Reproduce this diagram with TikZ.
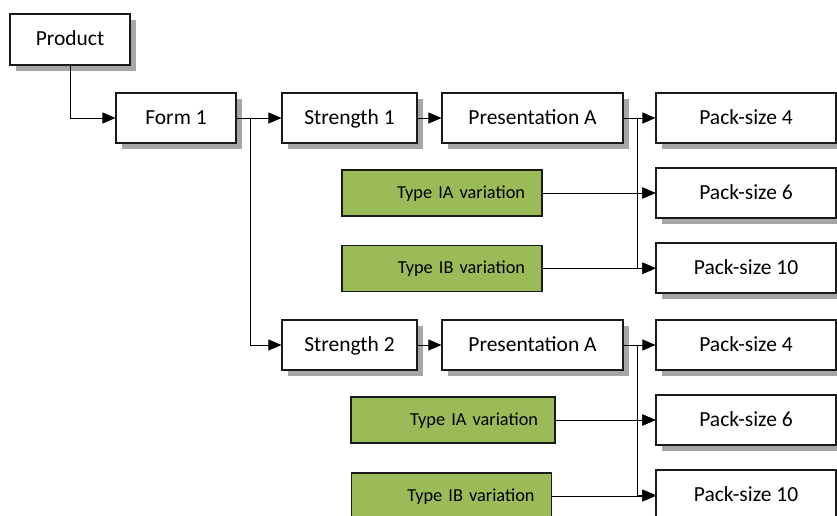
\documentclass[tikz,border=0pt]{standalone}
\usepackage{fontspec}
\setmainfont{Carlito}
\usetikzlibrary{arrows.meta,shadows}
\definecolor{vargreen}{HTML}{9BBB59}
\definecolor{shadowgray}{HTML}{A6A6A6}
\definecolor{linecol}{HTML}{1A1A1A}
\tikzset{
  wbox/.style={draw=linecol, line width=1.1pt, fill=white, minimum height=50pt, inner sep=0pt,
    text height=12.5pt, text depth=0pt,
    font=\fontsize{21.5}{24}\selectfont,
    drop shadow={shadow xshift=6pt, shadow yshift=-6pt, fill=shadowgray, opacity=1}},
  gbox/.style={draw=linecol, line width=1.1pt, fill=vargreen, minimum height=46pt, inner xsep=17pt, inner ysep=0pt,
    text height=10.8pt, text depth=0pt,
    align=right, font=\fontsize{18.3}{21}\selectfont},
  conn/.style={draw=black, line width=0.9pt},
  arr/.style={conn, -{Triangle[length=13pt,width=11pt]}}
}
\begin{document}
\begin{tikzpicture}[x=1pt,y=-1pt]
\useasboundingbox (0,0) rectangle (837,515);
\clip (0,0) rectangle (837,515);
% main boxes
\node[wbox, minimum width=120pt, minimum height=51pt] (prod) at (70,39.5) {Product};
\node[wbox, minimum width=120pt] (form1) at (176,118) {Form 1};
\node[wbox, minimum width=135pt] (str1) at (349.5,118) {Strength 1};
\node[wbox, minimum width=181pt] (pres1) at (532.5,118) {Presentation A};
\node[wbox, minimum width=180pt] (p4a) at (746,118) {Pack-size 4};
\node[wbox, minimum width=180pt] (p6a) at (746,193) {Pack-size 6};
\node[wbox, minimum width=180pt] (p10a) at (746,268) {Pack-size 10};
\node[wbox, minimum width=135pt] (str2) at (349.5,345) {Strength 2};
\node[wbox, minimum width=181pt] (pres2) at (532.5,345) {Presentation A};
\node[wbox, minimum width=180pt] (p4b) at (746,345) {Pack-size 4};
\node[wbox, minimum width=180pt] (p6b) at (746,420) {Pack-size 6};
\node[wbox, minimum width=180pt] (p10b) at (746,495) {Pack-size 10};
% variation boxes
\node[gbox, text width=166pt] (ia1) at (442,193) {Type IA variation};
\node[gbox, text width=166pt] (ib1) at (442,268.5) {Type IB variation};
\node[gbox, text width=170pt] (ia2) at (453,420) {Type IA variation};
\node[gbox, text width=166pt] (ib2) at (451.5,496) {Type IB variation};
% branch points
\coordinate (b1) at (250,118);
\coordinate (b2) at (637,118);
\coordinate (b3) at (637,345);
% connectors
\draw[arr] (prod.south) |- (form1.west);
\draw[arr] (form1.east) -- (str1.west);
\draw[arr] (b1) |- (str2.west);
\draw[arr] (str1.east) -- (pres1.west);
\draw[arr] (pres1.east) -- (p4a.west);
\draw[arr] (b2) |- (p6a.west);
\draw[arr] (b2) |- (p10a.west);
\draw[arr] (ia1.east) -- (p6a.west);
\draw[arr] (ib1.east) -- (p10a.west |- ib1.east);
\draw[arr] (str2.east) -- (pres2.west);
\draw[arr] (pres2.east) -- (p4b.west);
\draw[arr] (b3) |- (p6b.west);
\draw[arr] (b3) |- (p10b.west);
\draw[arr] (ia2.east) -- (p6b.west);
\draw[arr] (ib2.east) -- (p10b.west |- ib2.east);
\end{tikzpicture}
\end{document}
